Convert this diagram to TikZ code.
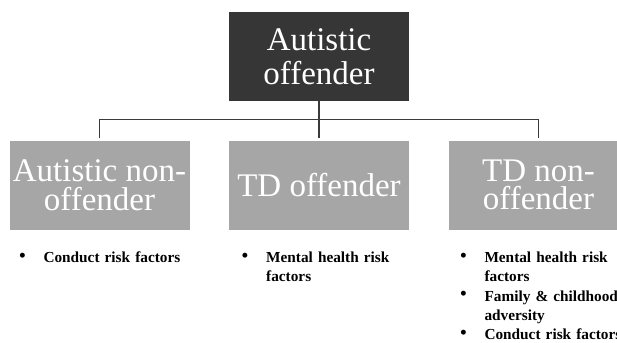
\documentclass[tikz,border=0pt]{standalone}
\usepackage{fontspec}
\setmainfont{Liberation Serif}
\definecolor{topfill}{HTML}{363636}
\definecolor{subfill}{HTML}{A6A6A6}
\definecolor{linecol}{HTML}{3A3A3A}
\begin{document}
\begin{tikzpicture}[x=1pt,y=-1pt,
  boxbase/.style={draw=none, minimum width=180pt, minimum height=89pt, inner sep=0pt,
    text=white, align=center},
  topbox/.style={boxbase, fill=topfill, font=\fontsize{33}{34}\selectfont},
  subbox/.style={boxbase, fill=subfill, font=\fontsize{33}{28.5}\selectfont},
  conn/.style={draw=linecol, line width=1.3pt},
  bullets/.style={anchor=north west, inner sep=0pt, align=left, text width=200pt,
    font=\bfseries\fontsize{15.3}{19.3}\selectfont},
]
\newcommand{\bitem}{\leavevmode\llap{\mdseries\raisebox{0.5pt}{\scalebox{1.35}{•}}\hspace{17.5pt}}}
\useasboundingbox (0,0) rectangle (617,342);
\clip (0,0) rectangle (617,342);
\fill[white] (0,0) rectangle (617,342);

\node[topbox] (top) at (319,56.7) {Autistic\\offender};
\node[subbox] (b1) at (99.5,185) {Autistic non-\\offender};
\node[subbox] (b2) at (319,185) {TD offender};
\node[subbox] (b3) at (538.5,185) {TD non-\\offender};

\coordinate (h1) at (99.5,119.5);
\coordinate (h3) at (538.5,119.5);
\draw[conn] ([yshift=2pt]b1.north) -- (h1) -- (h3) -- ([yshift=2pt]b3.north);
\draw[conn] (top.south) -- ([yshift=2pt]b2.north);

\node[bullets] (l1) at (43.3,251.8) {\bitem Conduct risk factors};
\node[bullets] (l2) at (266,251.8) {\bitem Mental health risk\\factors};
\node[bullets] (l3) at (484.3,251.8) {\bitem Mental health risk\\factors\\\bitem Family \& childhood\\adversity\\\bitem Conduct risk factors};
\end{tikzpicture}
\end{document}
